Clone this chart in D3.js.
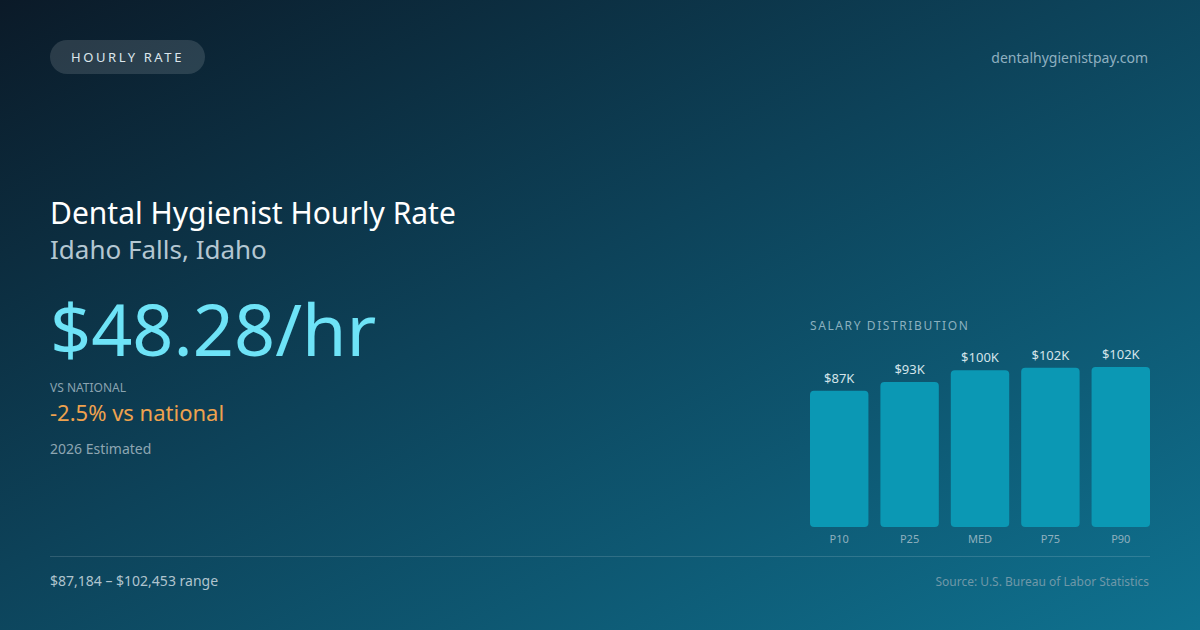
<!DOCTYPE html>
<html><head><meta charset="utf-8">
<script src="https://cdn.jsdelivr.net/npm/d3@7"></script>
<style>html,body{margin:0;padding:0;background:#0c1d2c;}svg{display:block;font-family:"Noto Sans",sans-serif;}</style>
</head><body>
<script>
const categories = ["P10","P25","MED","P75","P90"];
const values = [87184, 92900, 100300, 101900, 102453];
const valueLabels = ["$87K","$93K","$100K","$102K","$102K"];

const W = 1200, H = 630;
const svg = d3.select("body").append("svg").attr("width", W).attr("height", H);
const defs = svg.append("defs");
const g = defs.append("linearGradient").attr("id","bg").attr("x1","0").attr("y1","0").attr("x2","1").attr("y2","1");
g.append("stop").attr("offset","0%").attr("stop-color","#0b1a28");
g.append("stop").attr("offset","45%").attr("stop-color","#0d4259");
g.append("stop").attr("offset","100%").attr("stop-color","#0f7290");
svg.append("rect").attr("width",W).attr("height",H).attr("fill","url(#bg)");

// pill
svg.append("rect").attr("x",50).attr("y",40).attr("width",155).attr("height",34).attr("rx",17).attr("fill","rgba(255,255,255,0.13)");
svg.append("text").attr("x",127.5).attr("y",62).attr("text-anchor","middle").attr("font-size",13).attr("letter-spacing",2.6).attr("fill","#dce6ec").text("HOURLY RATE");
svg.append("text").attr("x",1148).attr("y",63).attr("text-anchor","end").attr("font-size",14).attr("fill","#8fb0c0").text("dentalhygienistpay.com");

svg.append("text").attr("x",50).attr("y",224).attr("font-size",30).attr("fill","#ffffff").text("Dental Hygienist Hourly Rate");
svg.append("text").attr("x",50).attr("y",259).attr("font-size",26).attr("fill","#b4c7d2").text("Idaho Falls, Idaho");
svg.append("text").attr("x",50).attr("y",356).attr("font-size",72).attr("fill","#6ee3f7").text("$48.28/hr");
svg.append("text").attr("x",50).attr("y",392).attr("font-size",12).attr("fill","#8aa3b0").text("VS NATIONAL");
svg.append("text").attr("x",50).attr("y",421).attr("font-size",22).attr("fill","#efa24e").text("-2.5% vs national");
svg.append("text").attr("x",50).attr("y",454).attr("font-size",14).attr("fill","#8ea6b2").text("2026 Estimated");

// divider
svg.append("line").attr("x1",50).attr("x2",1150).attr("y1",556.5).attr("y2",556.5).attr("stroke","rgba(255,255,255,0.14)").attr("stroke-width",1);
svg.append("text").attr("x",50).attr("y",586).attr("font-size",14).attr("fill","#b0c4ce").text("$87,184 – $102,453 range");
svg.append("text").attr("x",1149).attr("y",586).attr("text-anchor","end").attr("font-size",12).attr("fill","#6f98a8").text("Source: U.S. Bureau of Labor Statistics");

// bar chart
svg.append("text").attr("x",810).attr("y",330).attr("font-size",12).attr("letter-spacing",1.6).attr("fill","#8bb0bf").text("SALARY DISTRIBUTION");
const x = d3.scaleBand().domain(categories).range([810,1150]).paddingInner(0.17).paddingOuter(0);
const y = d3.scaleLinear().domain([0, d3.max(values)]).range([527, 367]);
const bars = svg.append("g");
bars.selectAll("rect").data(values).join("rect")
  .attr("x",(d,i)=>x(categories[i])).attr("width",x.bandwidth())
  .attr("y",d=>y(d)).attr("height",d=>527-y(d)).attr("rx",4).attr("fill","#0b98b4");
bars.selectAll("text.v").data(values).join("text").attr("class","v")
  .attr("x",(d,i)=>x(categories[i])+x.bandwidth()/2).attr("y",d=>y(d)-8)
  .attr("text-anchor","middle").attr("font-size",13).attr("fill","#d4e4ea").text((d,i)=>valueLabels[i]);
bars.selectAll("text.c").data(categories).join("text").attr("class","c")
  .attr("x",d=>x(d)+x.bandwidth()/2).attr("y",543)
  .attr("text-anchor","middle").attr("font-size",11).attr("fill","#8fb0be").text(d=>d);
</script>
</body></html>
